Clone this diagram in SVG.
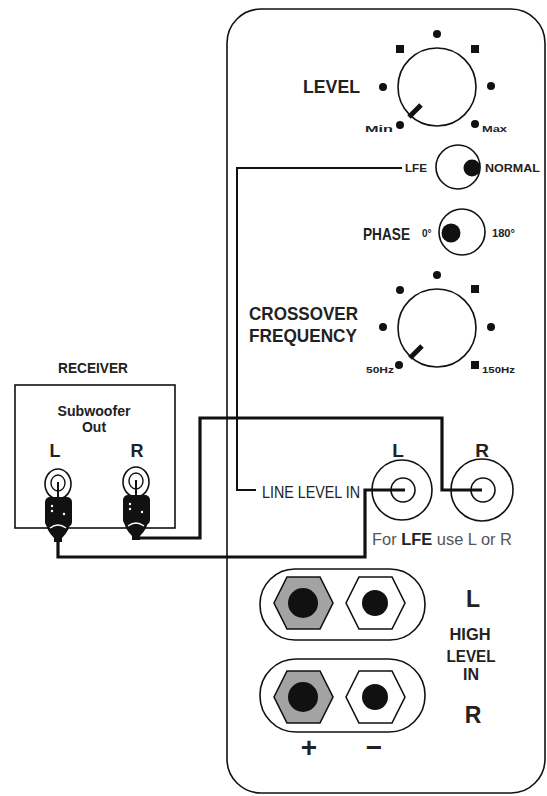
<svg xmlns="http://www.w3.org/2000/svg" width="547" height="796" viewBox="0 0 547 796">
<defs>
<style>
.ln{fill:none;stroke:#111;stroke-width:1.6}
.w{fill:none;stroke:#111;stroke-width:3.2;stroke-linejoin:miter}
.thin{fill:none;stroke:#111;stroke-width:2}
.t{font-family:"Liberation Sans",Arial,sans-serif;fill:#222}
.b{font-weight:bold}
.dot{fill:#111}
.hexg{fill:#a3a3a3;stroke:#111;stroke-width:1.6}
.hexw{fill:#fff;stroke:#111;stroke-width:1.6}
</style>
<g id="plug">
<ellipse cx="0" cy="-58" rx="13" ry="15" fill="#fff" stroke="#111" stroke-width="1.6"/>
<ellipse cx="0" cy="-59" rx="7" ry="8" fill="none" stroke="#111" stroke-width="1.4"/>
<line x1="0" y1="-60" x2="0" y2="-42" stroke="#111" stroke-width="2"/>
<rect x="-13" y="-45" width="27" height="30" rx="5" fill="#111"/>
<circle cx="-6" cy="-36" r="1.2" fill="#fff"/>
<circle cx="-6" cy="-31" r="1.2" fill="#fff"/>
<circle cx="6" cy="-28" r="1.2" fill="#fff"/>
<path d="M-12,-20 Q-12,-12 -4,-4 L4,-4 Q12,-12 12,-20 Z" fill="#111"/>
<path d="M-8,-14 Q0,-20 8,-14" fill="none" stroke="#fff" stroke-width="1.4"/>
<rect x="-4" y="-6" width="8" height="6" fill="#111"/>
</g>
</defs>
<rect width="547" height="796" fill="#fff"/>

<g id="panel">
<rect x="227" y="9" width="318" height="784" rx="34" class="ln"/>
</g>

<g id="connectors">
<path class="thin" d="M402,168 H237 V490 H256"/>
<path class="w" d="M58,542 V557 H365 V490 H405"/>
<path class="w" d="M140,538 H200 V418 H442 V490 H482"/>
</g>

<g id="level-knob">
<text class="t b" x="303" y="93" font-size="19" textLength="57" lengthAdjust="spacingAndGlyphs">LEVEL</text>
<circle cx="437" cy="87" r="39" class="ln"/>
<circle class="dot" cx="437" cy="34" r="4"/>
<rect class="dot" x="396" y="45" width="8" height="8"/>
<rect class="dot" x="471" y="45" width="8" height="8"/>
<circle class="dot" cx="383" cy="87" r="4"/>
<circle class="dot" cx="491" cy="86" r="4"/>
<circle class="dot" cx="400" cy="125" r="4"/>
<circle class="dot" cx="475" cy="124" r="4"/>
<line x1="409" y1="117" x2="421" y2="105" stroke="#111" stroke-width="5"/>
<text class="t b" x="365" y="132" font-size="9" textLength="28" lengthAdjust="spacingAndGlyphs">Min</text>
<text class="t b" x="482" y="132" font-size="9" textLength="25" lengthAdjust="spacingAndGlyphs">Max</text>
</g>

<g id="lfe-switch">
<text class="t b" x="405" y="172" font-size="11" textLength="22" lengthAdjust="spacingAndGlyphs">LFE</text>
<circle cx="458" cy="167" r="22" class="ln"/>
<circle class="dot" cx="472" cy="168" r="8.5"/>
<text class="t b" x="485" y="172" font-size="11" textLength="55" lengthAdjust="spacingAndGlyphs">NORMAL</text>
</g>

<g id="phase-switch">
<text class="t b" x="363" y="240" font-size="17" textLength="47" lengthAdjust="spacingAndGlyphs">PHASE</text>
<text class="t b" x="422" y="237" font-size="10">0°</text>
<circle cx="462" cy="232" r="23" class="ln"/>
<circle class="dot" cx="451" cy="233" r="9.5"/>
<text class="t b" x="492" y="237" font-size="10" textLength="23" lengthAdjust="spacingAndGlyphs">180°</text>
</g>

<g id="crossover-knob">
<text class="t b" x="249" y="320" font-size="19" textLength="109" lengthAdjust="spacingAndGlyphs">CROSSOVER</text>
<text class="t b" x="249" y="342" font-size="19" textLength="108" lengthAdjust="spacingAndGlyphs">FREQUENCY</text>
<circle cx="437" cy="328" r="39" class="ln"/>
<circle class="dot" cx="437" cy="275" r="4"/>
<circle class="dot" cx="400" cy="290" r="4"/>
<rect class="dot" x="471" y="285" width="8" height="8"/>
<circle class="dot" cx="383" cy="327" r="4"/>
<circle class="dot" cx="491" cy="327" r="4"/>
<circle class="dot" cx="399" cy="365" r="4"/>
<rect class="dot" x="471" y="361" width="8" height="8"/>
<line x1="410" y1="358" x2="422" y2="346" stroke="#111" stroke-width="5"/>
<text class="t b" x="366" y="373" font-size="9" textLength="28" lengthAdjust="spacingAndGlyphs">50Hz</text>
<text class="t b" x="482" y="373" font-size="9" textLength="33" lengthAdjust="spacingAndGlyphs">150Hz</text>
</g>

<g id="receiver">
<text class="t b" x="93" y="373" font-size="14" text-anchor="middle" textLength="70" lengthAdjust="spacingAndGlyphs">RECEIVER</text>
<rect x="15" y="385" width="160" height="143" class="ln"/>
<text class="t b" x="94" y="416" font-size="14" text-anchor="middle" textLength="73" lengthAdjust="spacingAndGlyphs">Subwoofer</text>
<text class="t b" x="94" y="432" font-size="14" text-anchor="middle">Out</text>
<text class="t b" x="55" y="457" font-size="18" text-anchor="middle">L</text>
<text class="t b" x="137" y="457" font-size="18" text-anchor="middle">R</text>
<use href="#plug" x="58" y="542"/>
<use href="#plug" x="136" y="540"/>
</g>

<g id="line-level-in">
<text class="t" x="262" y="498" font-size="16" textLength="98" lengthAdjust="spacingAndGlyphs">LINE LEVEL IN</text>
<text class="t b" x="398" y="457" font-size="19" text-anchor="middle">L</text>
<circle cx="402" cy="490" r="30" class="ln"/>
<circle cx="403" cy="490" r="12" class="ln"/>
<text class="t b" x="482" y="457" font-size="19" text-anchor="middle">R</text>
<circle cx="482" cy="490" r="31" class="ln"/>
<circle cx="483" cy="490" r="12" class="ln"/>
<text class="t" x="372" y="545" font-size="16" fill="#555" style="fill:#555" textLength="140" lengthAdjust="spacingAndGlyphs">For <tspan font-weight="bold" style="fill:#222">LFE</tspan> use L or R</text>
</g>

<g id="high-level-in">
<rect x="260" y="569" width="165" height="71" rx="35" class="ln"/>
<polygon class="hexg" points="274,603 287,577 320,577 333,603 320,629 287,629"/>
<circle class="dot" cx="303" cy="603" r="15"/>
<polygon class="hexw" points="346,603 359,577 392,577 405,603 392,629 359,629"/>
<circle class="dot" cx="375" cy="603" r="13"/>
<rect x="260" y="659" width="165" height="73" rx="36" class="ln"/>
<polygon class="hexg" points="274,697 287,671 320,671 333,697 320,723 287,723"/>
<circle class="dot" cx="303" cy="697" r="15"/>
<polygon class="hexw" points="346,697 359,671 392,671 405,697 392,723 359,723"/>
<circle class="dot" cx="375" cy="697" r="13"/>
<text class="t b" x="473" y="607" font-size="23" text-anchor="middle">L</text>
<text class="t b" x="470" y="640" font-size="16" text-anchor="middle" textLength="41" lengthAdjust="spacingAndGlyphs">HIGH</text>
<text class="t b" x="471" y="662" font-size="16" text-anchor="middle" textLength="49" lengthAdjust="spacingAndGlyphs">LEVEL</text>
<text class="t b" x="471" y="680" font-size="16" text-anchor="middle">IN</text>
<text class="t b" x="473" y="723" font-size="23" text-anchor="middle">R</text>
<text class="t b" x="309" y="757" font-size="28" text-anchor="middle">+</text>
<text class="t b" x="374" y="757" font-size="28" text-anchor="middle">−</text>
</g>
</svg>
